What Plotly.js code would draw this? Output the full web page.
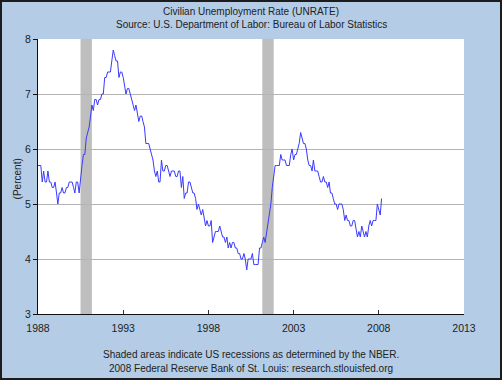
<!DOCTYPE html>
<html>
<head>
<meta charset="utf-8">
<script src="https://cdn.plot.ly/plotly-3.0.1.min.js"></script>
<style>
html,body{margin:0;padding:0;background:#b4cce6;}
#wrap{position:relative;width:502px;height:380px;}
#chart{width:502px;height:380px;}
#frame{position:absolute;left:0;top:0;width:502px;height:380px;box-sizing:border-box;border:2px solid #1c1c1c;pointer-events:none;}
</style>
</head>
<body>
<div id="wrap"><div id="chart"></div><div id="frame"></div></div>
<script>
// Monthly civilian unemployment rate, Jan 1988 - Mar 2008 (percent)
var startYear = 1988;
var rate1988_1992 = [
  5.7,5.7,5.7,5.4,5.6,5.4,5.4,5.6,5.4,5.4,5.3,5.3,
  5.4,5.2,5.0,5.2,5.2,5.3,5.2,5.2,5.3,5.3,5.4,5.4,
  5.4,5.3,5.2,5.4,5.4,5.2,5.5,5.7,5.9,5.9,6.2,6.3,
  6.4,6.6,6.8,6.7,6.9,6.9,6.8,6.9,6.9,7.0,7.0,7.3,
  7.3,7.4,7.4,7.4,7.6,7.8,7.7,7.6,7.6,7.3,7.4,7.4
];
var rate1993_1997 = [
  7.3,7.1,7.0,7.1,7.1,7.0,6.9,6.8,6.7,6.8,6.6,6.5,
  6.6,6.6,6.5,6.4,6.1,6.1,6.1,6.0,5.9,5.8,5.6,5.5,
  5.6,5.4,5.4,5.8,5.6,5.6,5.7,5.7,5.6,5.5,5.6,5.6,
  5.6,5.5,5.5,5.6,5.6,5.3,5.5,5.1,5.2,5.2,5.4,5.4,
  5.3,5.2,5.2,5.1,4.9,5.0,4.9,4.8,4.9,4.7,4.6,4.7
];
var rate1998_2002 = [
  4.6,4.6,4.7,4.3,4.4,4.5,4.5,4.5,4.6,4.5,4.4,4.4,
  4.3,4.4,4.2,4.3,4.2,4.3,4.3,4.2,4.2,4.1,4.1,4.0,
  4.0,4.1,4.0,3.8,4.0,4.0,4.0,4.1,3.9,3.9,3.9,3.9,
  4.2,4.2,4.3,4.4,4.3,4.5,4.6,4.9,5.0,5.3,5.5,5.7,
  5.7,5.7,5.7,5.9,5.8,5.8,5.8,5.7,5.7,5.7,5.9,6.0
];
var rate2003_2008 = [
  5.8,5.9,5.9,6.0,6.1,6.3,6.2,6.1,6.1,6.0,5.8,5.7,
  5.7,5.6,5.8,5.6,5.6,5.6,5.5,5.4,5.4,5.5,5.4,5.4,
  5.3,5.4,5.2,5.2,5.1,5.0,5.0,4.9,5.0,5.0,5.0,4.9,
  4.7,4.8,4.7,4.7,4.6,4.6,4.7,4.7,4.5,4.4,4.5,4.4,
  4.6,4.5,4.4,4.5,4.4,4.6,4.7,4.6,4.7,4.7,4.7,5.0,
  4.9,4.8,5.1
];
var recessionStarts = ['1990-07-01','2001-03-01'];
var recessionEnds   = ['1991-03-01','2001-11-01'];
var yTickVals = [3,4,5,6,7,8];
var xTickVals = ['1988-01-01','1993-01-01','1998-01-01','2003-01-01','2008-01-01','2013-01-01'];
var xTickText = ['1988','1993','1998','2003','2008','2013'];

var rates = rate1988_1992.concat(rate1993_1997, rate1998_2002, rate2003_2008);
var dates = [];
for (var i = 0; i < rates.length; i++) {
  var y = startYear + Math.floor(i / 12);
  var m = (i % 12) + 1;
  dates.push(y + '-' + (m < 10 ? '0' + m : m) + '-01');
}

var FONT = '"Liberation Sans", Arial, sans-serif';
var TXT = {family:FONT, size:10, color:'#222'};

var shapes = recessionStarts.map(function (s, k) {
  return {type:'rect', xref:'x', yref:'paper', x0:s, x1:recessionEnds[k], y0:0, y1:1,
          fillcolor:'#bebebe', line:{width:0}, layer:'between'};
});

var trace = {x:dates, y:rates, type:'scatter', mode:'lines',
  line:{color:'#3a3aff', width:1}, hoverinfo:'x+y'};

var layout = {
  width:502, height:380,
  paper_bgcolor:'#b4cce6', plot_bgcolor:'#ffffff',
  margin:{l:38, r:38, t:39, b:66, pad:0},
  showlegend:false,
  font:TXT,
  xaxis:{type:'date', range:['1988-01-01','2013-01-01'],
    tickmode:'array', tickvals:xTickVals, ticktext:xTickText,
    ticks:'inside', ticklen:4, tickcolor:'#333', showgrid:false,
    showline:true, linecolor:'#111', linewidth:1, zeroline:false,
    ticklabelstandoff:4,
    tickfont:{family:FONT, size:10.5, color:'#222'}},
  yaxis:{range:[3,8], tickmode:'array', tickvals:yTickVals,
    ticks:'outside', ticklen:4, tickcolor:'#111',
    showgrid:true, gridcolor:'#b4b4b4', gridwidth:1,
    showline:true, linecolor:'#111', linewidth:1, zeroline:false,
    tickfont:{family:FONT, size:10.5, color:'#222'}},
  shapes:shapes,
  annotations:[
    {text:'Civilian Unemployment Rate (UNRATE)', xref:'paper', yref:'paper', x:0.5, y:1.1, xanchor:'center', yanchor:'middle', showarrow:false, font:TXT},
    {text:'Source: U.S. Department of Labor: Bureau of Labor Statistics', xref:'paper', yref:'paper', x:0.5, y:1.051, xanchor:'center', yanchor:'middle', showarrow:false, font:TXT},
    {text:'Shaded areas indicate US recessions as determined by the NBER.', xref:'paper', yref:'paper', x:0.5, y:-0.149, xanchor:'center', yanchor:'middle', showarrow:false, font:TXT},
    {text:'2008 Federal Reserve Bank of St. Louis: research.stlouisfed.org', xref:'paper', yref:'paper', x:0.5, y:-0.198, xanchor:'center', yanchor:'middle', showarrow:false, font:TXT},
    {text:'(Percent)', xref:'paper', yref:'paper', x:-0.049, y:0.49, xanchor:'center', yanchor:'middle', textangle:-90, showarrow:false, font:TXT}
  ]
};

Plotly.newPlot('chart', [trace], layout, {staticPlot:true, displayModeBar:false});
</script>
</body>
</html>
